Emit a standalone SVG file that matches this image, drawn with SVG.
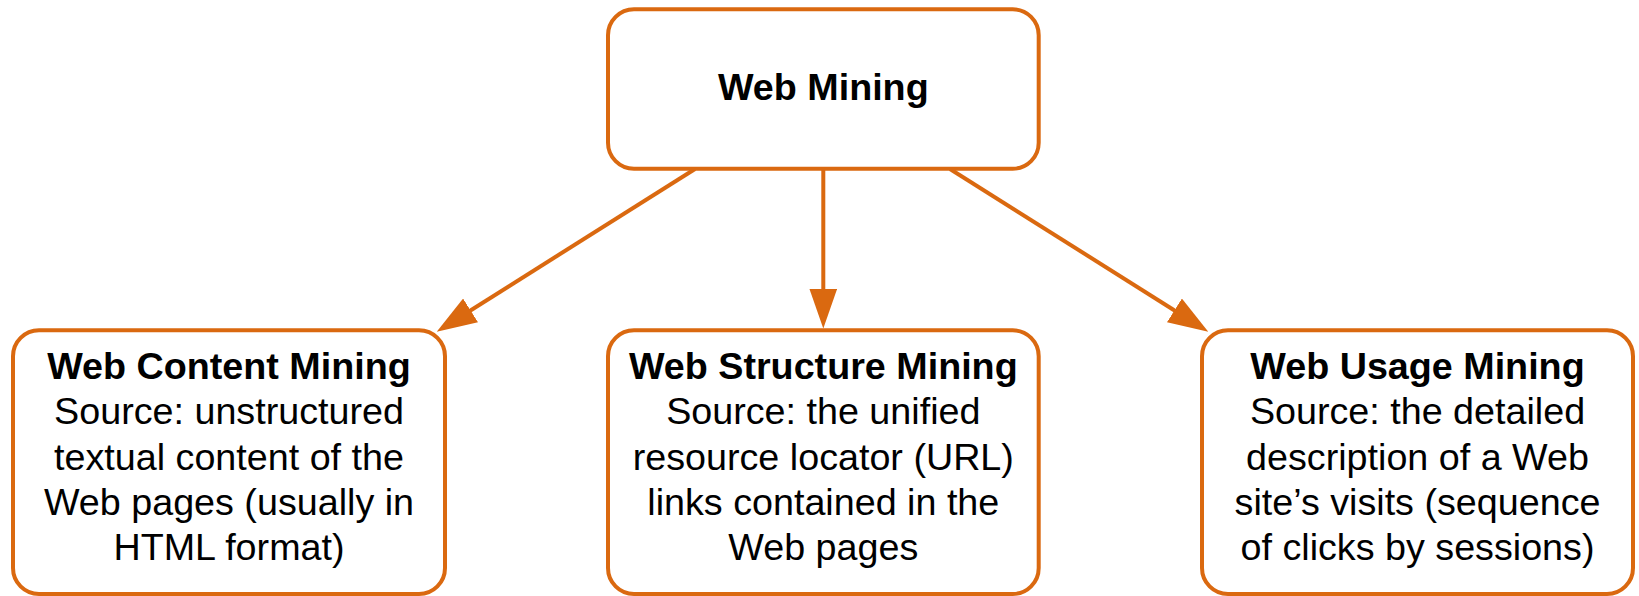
<svg xmlns="http://www.w3.org/2000/svg" width="1639" height="596" viewBox="0 0 1639 596">
<style>
.box{fill:#fff;stroke:#DA6910;stroke-width:4}
.ln{fill:none;stroke:#DA6910;stroke-width:4}
text{font-family:"Liberation Sans",Arial,sans-serif;font-size:37.7px;fill:#000;text-anchor:middle}
.b{font-weight:bold}
</style>
<defs>
<marker id="ah" viewBox="0 0 40 28" markerWidth="40" markerHeight="28" refX="10" refY="14" orient="auto" markerUnits="userSpaceOnUse">
<path d="M0,0 L40,14 L0,28 z" fill="#DA6910"/>
</marker>
</defs>
<g id="connectors">
<line class="ln" x1="695" y1="169" x2="462.1" y2="315.7" marker-end="url(#ah)"/>
<line class="ln" x1="823.3" y1="169" x2="823.3" y2="298.5" marker-end="url(#ah)"/>
<line class="ln" x1="950" y1="169" x2="1182.9" y2="315.7" marker-end="url(#ah)"/>
</g>
<g id="web-mining">
<rect class="box" x="608" y="9.3" width="430.7" height="159.4" rx="26"/>
<text class="b" x="823.3" y="100">Web Mining</text>
</g>
<g id="web-content-mining">
<rect class="box" x="13" y="330.3" width="432" height="263.7" rx="26"/>
<text x="229" y="379"><tspan class="b">Web Content Mining</tspan><tspan x="229" dy="45.3">Source: unstructured</tspan><tspan x="229" dy="45.3">textual content of the</tspan><tspan x="229" dy="45.3">Web pages (usually in</tspan><tspan x="229" dy="45.3">HTML format)</tspan></text>
</g>
<g id="web-structure-mining">
<rect class="box" x="608" y="330.3" width="430.7" height="263.7" rx="26"/>
<text x="823.3" y="379"><tspan class="b">Web Structure Mining</tspan><tspan x="823.3" dy="45.3">Source: the unified</tspan><tspan x="823.3" dy="45.3">resource locator (URL)</tspan><tspan x="823.3" dy="45.3">links contained in the</tspan><tspan x="823.3" dy="45.3">Web pages</tspan></text>
</g>
<g id="web-usage-mining">
<rect class="box" x="1202" y="330.3" width="431" height="263.7" rx="26"/>
<text x="1417.5" y="379"><tspan class="b">Web Usage Mining</tspan><tspan x="1417.5" dy="45.3">Source: the detailed</tspan><tspan x="1417.5" dy="45.3">description of a Web</tspan><tspan x="1417.5" dy="45.3">site’s visits (sequence</tspan><tspan x="1417.5" dy="45.3">of clicks by sessions)</tspan></text>
</g>
</svg>
